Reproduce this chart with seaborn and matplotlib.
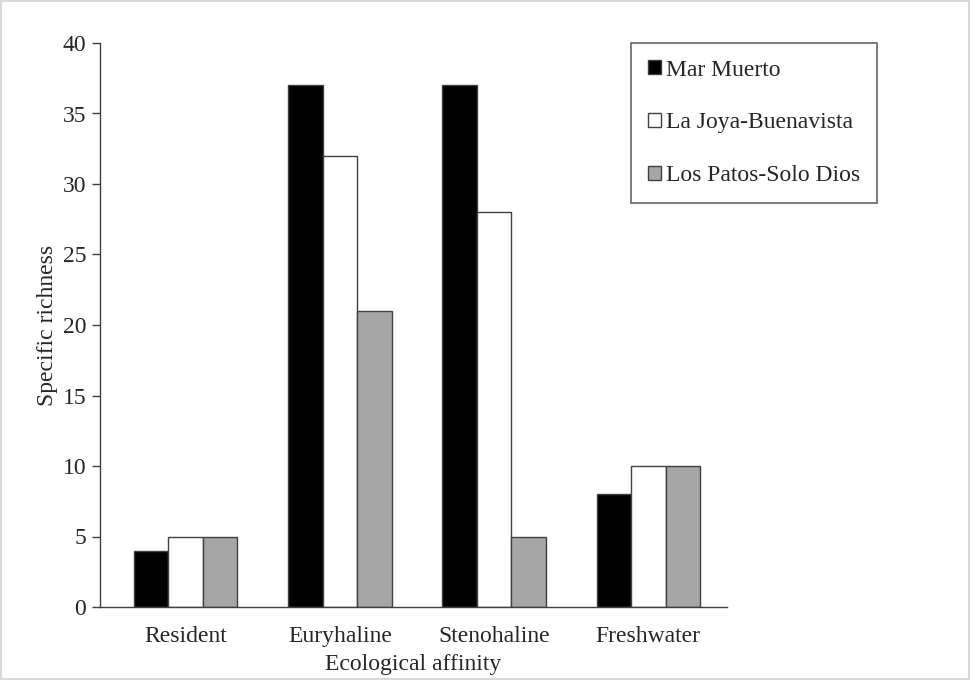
import matplotlib
matplotlib.use("Agg")
import matplotlib.pyplot as plt
import seaborn as sns
import pandas as pd
from matplotlib.patches import Rectangle

categories = ["Resident", "Euryhaline", "Stenohaline", "Freshwater"]
series_names = ["Mar Muerto", "La Joya-Buenavista", "Los Patos-Solo Dios"]
mar_muerto = [4, 37, 37, 8]
la_joya = [5, 32, 28, 10]
los_patos = [5, 21, 5, 10]
colors = ["#000000", "#ffffff", "#a6a6a6"]
y_ticks = [0, 5, 10, 15, 20, 25, 30, 35, 40]

rows = []
for name, vals in zip(series_names, [mar_muerto, la_joya, los_patos]):
    for c, v in zip(categories, vals):
        rows.append({"Category": c, "Site": name, "Value": v})
df = pd.DataFrame(rows)

sns.set_theme(style="white")
plt.rcParams["font.family"] = ["Liberation Serif", "DejaVu Serif"]

FS = 17
fig = plt.figure(figsize=(9.71, 6.8), dpi=100)
ax = fig.add_axes([100/971, 1-607/680, 627/971, (607-43)/680])

sns.barplot(data=df, x="Category", y="Value", hue="Site", order=categories,
            hue_order=series_names, palette=colors, width=0.67, gap=0,
            edgecolor="#404040", linewidth=1.0, saturation=1, ax=ax, errorbar=None)

ax.set_xlim(-0.555, 3.51)
ax.set_ylim(0, 40)
ax.set_yticks(y_ticks)
ax.set_yticklabels([str(t) for t in y_ticks], fontsize=FS)
ax.tick_params(axis="y", direction="out", length=6, width=1, color="#404040", pad=4, left=True)
ax.tick_params(axis="x", length=0, labelsize=FS, pad=14)
for s in ["top", "right"]:
    ax.spines[s].set_visible(False)
for s in ["left", "bottom"]:
    ax.spines[s].set_color("#404040")
    ax.spines[s].set_linewidth(1.0)
ax.set_xlabel("Ecological affinity", fontsize=FS, labelpad=4.5)
ax.set_ylabel("Specific richness", fontsize=FS, labelpad=3)

leg = ax.legend(loc="upper left", bbox_to_anchor=(631/971, 1-43/680), bbox_transform=fig.transFigure,
                fontsize=FS, frameon=True, fancybox=False, edgecolor="#404040",
                handlelength=0.55, handleheight=0.55, handletextpad=0.25,
                labelspacing=1.35, borderpad=0.7, borderaxespad=0)
leg.get_frame().set_linewidth(1.2)

fig.patches.append(Rectangle((0.001, 0.002), 0.997, 0.996, transform=fig.transFigure,
                             fill=False, edgecolor="#d9d9d9", linewidth=1.5))

fig.savefig("out.png", dpi=100)
